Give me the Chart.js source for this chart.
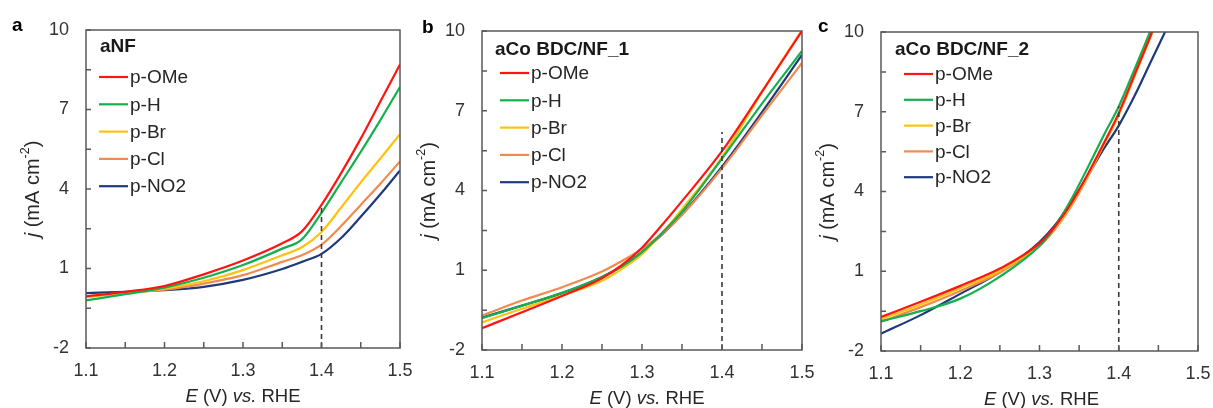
<!DOCTYPE html>
<html>
<head>
<meta charset="utf-8">
<script src="https://cdn.jsdelivr.net/npm/chart.js@4.4.1/dist/chart.umd.min.js"></script>
<style>
  body { margin: 0; background: #fff; width: 1213px; height: 408px; overflow: hidden; }
  .panel { position: absolute; top: 0; }
</style>
</head>
<body>
<canvas id="chartA" class="panel" style="left:0" width="420" height="408"></canvas>
<canvas id="chartB" class="panel" style="left:410px" width="410" height="408"></canvas>
<canvas id="chartC" class="panel" style="left:812px" width="401" height="408"></canvas>
<script>
// series names / colours (same for all 3 panels)
const seriesNames = ['p-OMe', 'p-H', 'p-Br', 'p-Cl', 'p-NO2'];
const seriesColors = ['#ff1414', '#14b04e', '#ffc20e', '#f08a4e', '#1f3a7a'];

// tick labels
const xLabelValues = [1.1, 1.2, 1.3, 1.4, 1.5];
const yLabelValues = [-2, 1, 4, 7, 10];

// panel a : aNF
const xA = [1.1, 1.15, 1.2, 1.25, 1.3, 1.35, 1.375, 1.4, 1.425, 1.45, 1.475, 1.5];
const aOMe = [-0.05, 0.12, 0.34, 0.78, 1.30, 1.95, 2.40, 3.40, 4.60, 5.90, 7.30, 8.70];
const aH   = [-0.20, 0.03, 0.28, 0.65, 1.13, 1.75, 2.10, 3.10, 4.25, 5.40, 6.60, 7.85];
const aBr  = [-0.08, 0.08, 0.24, 0.52, 0.94, 1.50, 1.80, 2.38, 3.30, 4.25, 5.15, 6.07];
const aCl  = [-0.06, 0.08, 0.20, 0.43, 0.75, 1.25, 1.50, 1.90, 2.60, 3.40, 4.20, 5.04];
const aNO2 = [0.07, 0.12, 0.18, 0.31, 0.57, 0.98, 1.25, 1.55, 2.15, 2.95, 3.80, 4.70];

// panel b : aCo BDC/NF_1
const xB = [1.1, 1.15, 1.2, 1.25, 1.275, 1.3, 1.325, 1.35, 1.4, 1.45, 1.5];
const bOMe = [-1.18, -0.58, 0.03, 0.70, 1.20, 1.85, 2.70, 3.60, 5.48, 7.72, 10.0];
const bH   = [-0.80, -0.33, 0.15, 0.75, 1.15, 1.68, 2.40, 3.20, 5.20, 7.27, 9.25];
const bBr  = [-0.96, -0.45, 0.05, 0.60, 1.05, 1.60, 2.40, 3.30, 5.25, 7.70, 10.05];
const bCl  = [-0.70, -0.14, 0.36, 0.95, 1.35, 1.80, 2.38, 3.08, 4.83, 6.83, 8.80];
const bNO2 = [-0.78, -0.33, 0.14, 0.75, 1.15, 1.68, 2.35, 3.10, 4.90, 6.95, 9.10];

// panel c : aCo BDC/NF_2
const xC = [1.1, 1.15, 1.2, 1.25, 1.3, 1.32, 1.34, 1.36, 1.38, 1.4, 1.42, 1.44, 1.46];
const cOMe = [-0.72, -0.15, 0.45, 1.10, 2.05, 2.70, 3.55, 4.60, 5.75, 6.95, 8.40, 9.85, 11.4];
const cH   = [-0.88, -0.50, -0.03, 0.80, 1.95, 2.70, 3.70, 4.85, 6.05, 7.20, 8.60, 10.05, 11.6];
const cBr  = [-0.80, -0.25, 0.36, 1.02, 2.00, 2.65, 3.50, 4.55, 5.70, 6.90, 8.35, 9.80, 11.3];
const cCl  = [-0.90, -0.35, 0.26, 0.95, 1.95, 2.60, 3.45, 4.50, 5.70, 6.88, 8.35, 9.85, 11.4];
const cNO2 = [-1.35, -0.65, 0.15, 0.97, 2.10, 2.75, 3.60, 4.55, 5.55, 6.48, 7.60, 8.85, 10.1];

// dashed marker at 1.4 V, top of the dash per panel
const dashX = 1.4;
const dashTop = [3.4, 6.2, 7.2];

const FONT = "'Liberation Sans', Arial, sans-serif";
const frameColor = '#595959';

function toPoints(xs, ys) {
  return xs.map((x, i) => ({ x: x, y: ys[i] }));
}

// frame, inward ticks, legend, axis titles, panel letter
const panelDeco = {
  id: 'panelDeco',
  afterDatasetsDraw(chart, args, o) {
    const ctx = chart.ctx;
    const a = chart.chartArea;
    const xs = chart.scales.x, ys = chart.scales.y;
    ctx.save();
    ctx.strokeStyle = frameColor;
    ctx.lineWidth = 1.5;
    ctx.beginPath();
    xs.ticks.forEach(t => {
      const px = xs.getPixelForValue(t.value);
      ctx.moveTo(px, a.bottom);
      ctx.lineTo(px, a.bottom - 6);
    });
    ys.ticks.forEach(t => {
      const py = ys.getPixelForValue(t.value);
      ctx.moveTo(a.left, py);
      ctx.lineTo(a.left + 5, py);
    });
    ctx.stroke();
    ctx.strokeRect(a.left, a.top, a.right - a.left, a.bottom - a.top);
    ctx.restore();
  },
  afterDraw(chart, args, o) {
    const ctx = chart.ctx;
    const a = chart.chartArea;
    ctx.save();
    // legend
    ctx.fillStyle = '#1a1a1a';
    ctx.font = 'bold 19px ' + FONT;
    ctx.textBaseline = 'middle';
    ctx.textAlign = 'left';
    ctx.fillText(o.title, a.left + o.titleDx, a.top + o.titleDy);
    ctx.font = '19px ' + FONT;
    let row = 0;
    chart.data.datasets.forEach(ds => {
      if (!ds.label) return;
      const y = a.top + o.rowDy + row * o.rowGap;
      ctx.strokeStyle = ds.borderColor;
      ctx.lineWidth = 2.2;
      ctx.beginPath();
      ctx.moveTo(a.left + o.lineDx, y);
      ctx.lineTo(a.left + o.lineDx + 29, y);
      ctx.stroke();
      ctx.fillStyle = '#262626';
      ctx.fillText(ds.label, a.left + o.lineDx + 31, y + 1);
      row++;
    });
    // panel letter
    ctx.fillStyle = '#000';
    ctx.font = 'bold 19px ' + FONT;
    ctx.fillText(o.letter, a.left + o.letterDx, a.top + o.letterDy);

    // x axis title: E (V) vs. RHE
    const xParts = [['italic ', 'E'], ['', ' (V) '], ['italic ', 'vs.'], ['', ' RHE']];
    ctx.fillStyle = '#262626';
    let total = 0;
    xParts.forEach(p => { ctx.font = p[0] + '18.5px ' + FONT; total += ctx.measureText(p[1]).width; });
    let cx = (a.left + a.right) / 2 + o.xTitleDx - total / 2;
    const ty = a.bottom + 49;
    xParts.forEach(p => {
      ctx.font = p[0] + '18.5px ' + FONT;
      ctx.fillText(p[1], cx, ty);
      cx += ctx.measureText(p[1]).width;
    });

    // y axis title: j (mA cm-2)
    ctx.translate(a.left - 53, (a.top + a.bottom) / 2);
    ctx.rotate(-Math.PI / 2);
    const yParts = [['italic ', 'j', 20, 0], ['', ' (mA cm', 20, 0], ['', '-2', 12.5, -7], ['', ')', 20, 0]];
    total = 0;
    yParts.forEach(p => { ctx.font = p[0] + p[2] + 'px ' + FONT; total += ctx.measureText(p[1]).width; });
    let cy = -total / 2;
    yParts.forEach(p => {
      ctx.font = p[0] + p[2] + 'px ' + FONT;
      ctx.fillText(p[1], cy, p[3]);
      cy += ctx.measureText(p[1]).width;
    });
    ctx.restore();
  }
};

function makePanel(canvasId, xs, ysList, dashIdx, deco, geo) {
  const datasets = [{
    label: '',
    data: [{ x: dashX, y: -2 }, { x: dashX, y: dashTop[dashIdx] }],
    borderColor: '#3a3a3a',
    borderWidth: 1.6,
    borderDash: [5, 4],
    pointRadius: 0,
    tension: 0
  }];
  ysList.forEach((ys, i) => {
    datasets.push({
      label: seriesNames[i],
      data: toPoints(xs, ys),
      borderColor: seriesColors[i],
      borderWidth: 2.2,
      pointRadius: 0,
      cubicInterpolationMode: 'monotone'
    });
  });
  return new Chart(document.getElementById(canvasId), {
    type: 'line',
    data: { datasets: datasets },
    options: {
      responsive: false,
      animation: false,
      layout: { padding: { left: 0, right: geo.right, top: geo.top, bottom: 0 } },
      plugins: {
        legend: { display: false },
        tooltip: { enabled: false },
        panelDeco: deco
      },
      scales: {
        x: {
          type: 'linear',
          min: 1.1,
          max: 1.5,
          grid: { display: false, drawTicks: false },
          border: { display: false },
          ticks: {
            stepSize: 0.05,
            autoSkip: false,
            maxRotation: 0,
            padding: 12,
            color: '#333',
            font: { size: 18, family: FONT },
            callback: (v) => xLabelValues.some(t => Math.abs(t - v) < 1e-6) ? v.toFixed(1) : ''
          },
          afterFit: (s) => { s.height = geo.xh; s.paddingLeft = 0; s.paddingRight = 0; }
        },
        y: {
          min: -2,
          max: 10,
          grid: { display: false, drawTicks: false },
          border: { display: false },
          ticks: {
            stepSize: 1.5,
            autoSkip: false,
            padding: 17,
            color: '#333',
            font: { size: 18, family: FONT },
            callback: (v) => yLabelValues.some(t => Math.abs(t - v) < 1e-6) ? String(Math.round(v)) : ''
          },
          afterFit: (s) => { s.width = geo.yw; s.paddingTop = 0; s.paddingBottom = 0; }
        }
      }
    },
    plugins: [panelDeco]
  });
}

makePanel('chartA', xA, [aOMe, aH, aBr, aCl, aNO2], 0,
  { letter: 'a', letterDx: -74, letterDy: -4, title: 'aNF', titleDx: 14, titleDy: 17, lineDx: 13, rowDy: 47, rowGap: 27.3, xTitleDx: 0 },
  { right: 20, top: 30, xh: 60, yw: 86 });
makePanel('chartB', xB, [bOMe, bH, bBr, bCl, bNO2], 1,
  { letter: 'b', letterDx: -60, letterDy: -3, title: 'aCo BDC/NF_1', titleDx: 13, titleDy: 19, lineDx: 18, rowDy: 42, rowGap: 27.3, xTitleDx: 5 },
  { right: 18, top: 31, xh: 58, yw: 72 });
makePanel('chartC', xC, [cOMe, cH, cBr, cCl, cNO2], 2,
  { letter: 'c', letterDx: -63, letterDy: -5, title: 'aCo BDC/NF_2', titleDx: 14, titleDy: 18, lineDx: 23, rowDy: 42, rowGap: 25.8, xTitleDx: 2 },
  { right: 15, top: 32, xh: 57, yw: 69 });
</script>
</body>
</html>
